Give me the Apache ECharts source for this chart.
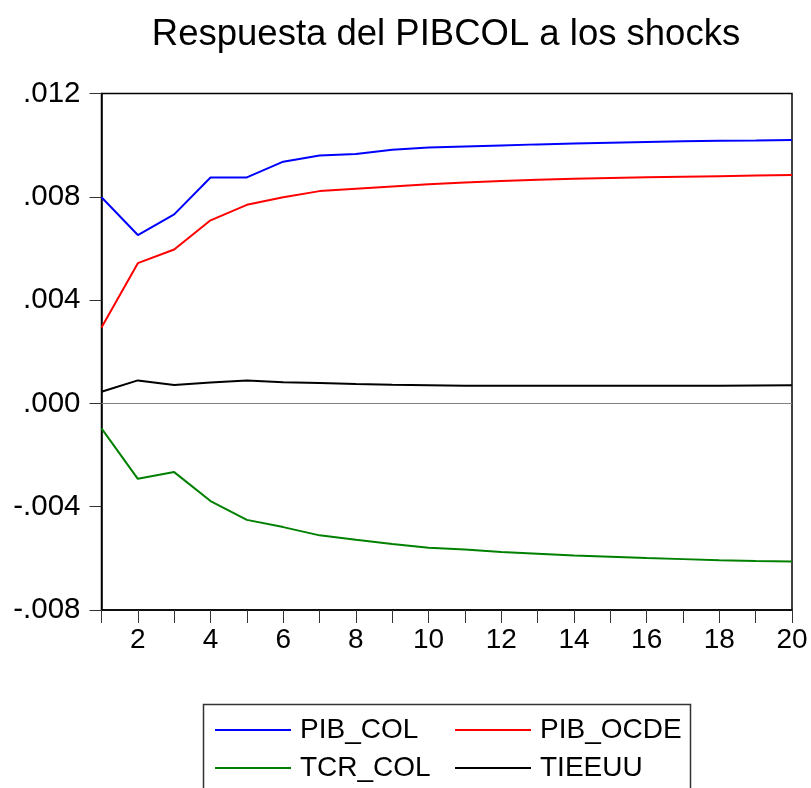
<!DOCTYPE html>
<html>
<head>
<meta charset="utf-8">
<script src="https://cdn.jsdelivr.net/npm/echarts@6/dist/echarts.min.js"></script>
<style>html,body{margin:0;padding:0;background:#fff}#c{width:811px;height:788px}</style>
</head>
<body>
<div id="c"></div>
<script>
var periods = [1,2,3,4,5,6,7,8,9,10,11,12,13,14,15,16,17,18,19,20];
var pibCol  = [0.00798,0.00652,0.00732,0.00875,0.00875,0.00936,0.00960,0.00966,0.00982,0.00991,0.00995,0.00999,0.01003,0.01006,0.01009,0.01012,0.01015,0.01017,0.01018,0.01020];
var pibOcde = [0.00294,0.00543,0.00596,0.00709,0.00769,0.00798,0.00822,0.00831,0.00840,0.00849,0.00855,0.00861,0.00866,0.00870,0.00873,0.00876,0.00878,0.00880,0.00882,0.00884];
var tcrCol  = [-0.00097,-0.00292,-0.00266,-0.00378,-0.00451,-0.00479,-0.00511,-0.00528,-0.00544,-0.00559,-0.00566,-0.00575,-0.00582,-0.00589,-0.00594,-0.00599,-0.00603,-0.00607,-0.00610,-0.00612];
var tieeuu  = [0.00045,0.00089,0.00071,0.00081,0.00089,0.00082,0.00079,0.00075,0.00072,0.00070,0.00068,0.00068,0.00068,0.00068,0.00068,0.00068,0.00068,0.00068,0.00069,0.00070];
var seriesNames = ['PIB_COL','PIB_OCDE','TCR_COL','TIEEUU'];
var titleText = 'Respuesta del PIBCOL a los shocks';

var FONT = '"Liberation Sans", Arial, sans-serif';
var chart = echarts.init(document.getElementById('c'), null, {renderer:'canvas'});

function fmt(v){
  if (Math.abs(v) < 1e-9) return '.000';
  return v.toFixed(3).replace('0.', '.');
}
function mkLegend(name, left, top){
  return {
    data:[{name:name, icon:'rect'}], left:left, top:top, padding:0, itemWidth:76, itemHeight:2,
    selectedMode:false,
    textStyle:{fontFamily:FONT, fontSize:28, color:'#000', padding:[0,0,0,4]}
  };
}
function line(name, data, color, extra){
  var s = {name:name, type:'line', data:data, symbol:'none', silent:true,
    lineStyle:{color:color, width:2}, itemStyle:{color:color}};
  if (extra) Object.assign(s, extra);
  return s;
}

chart.setOption({
  animation:false,
  backgroundColor:'#fff',
  title:{text:titleText, left:441, top:11, textAlign:'center',
    textStyle:{fontFamily:FONT, fontSize:36.5, fontWeight:'normal', color:'#000'}},
  grid:{left:101.5, right:19, top:93.5, bottom:178, show:true, borderColor:'#000', borderWidth:1.5, backgroundColor:'transparent'},
  legend:[
    mkLegend(seriesNames[0], 215, 716),
    mkLegend(seriesNames[1], 455, 716),
    mkLegend(seriesNames[2], 215, 754),
    mkLegend(seriesNames[3], 455, 754)
  ],
  graphic:[{type:'rect', shape:{x:203.5, y:704.5, width:487, height:100},
    style:{fill:'none', stroke:'#333', lineWidth:1.5}, silent:true}],
  xAxis:{type:'category', data:periods, boundaryGap:false,
    axisLine:{show:true, onZero:false, lineStyle:{color:'#000', width:1.5}},
    axisTick:{show:true, interval:0, length:13, lineStyle:{color:'#333', width:1}},
    axisLabel:{interval:function(i){return i%2===1;}, margin:16, fontFamily:FONT, fontSize:28, color:'#000'},
    splitLine:{show:false}},
  yAxis:{type:'value', min:-0.008, max:0.012, interval:0.004,
    axisLine:{show:true, lineStyle:{color:'#000', width:1.5}},
    axisTick:{show:true, inside:false, length:12, lineStyle:{color:'#333', width:1}},
    axisLabel:{formatter:fmt, margin:21, fontFamily:FONT, fontSize:29.5, color:'#000'},
    splitLine:{show:false}},
  series:[
    line(seriesNames[0], pibCol, '#0000ff', {markLine:{silent:true, symbol:'none', label:{show:false},
      lineStyle:{color:'#808080', width:1.2, type:'solid'}, data:[{yAxis:0}]}}),
    line(seriesNames[1], pibOcde, '#ff0000'),
    line(seriesNames[2], tcrCol, '#008000'),
    line(seriesNames[3], tieeuu, '#000000')
  ]
});
</script>
</body>
</html>
